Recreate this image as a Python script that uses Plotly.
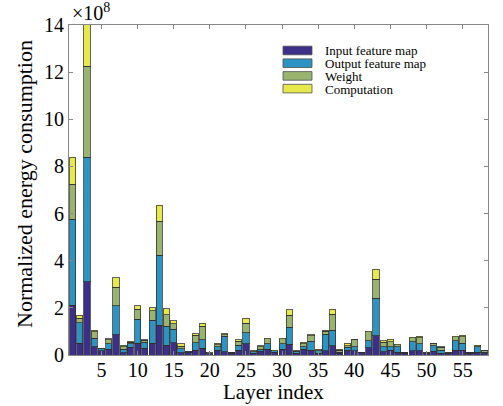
import plotly.graph_objects as go

# Energy per layer, in units of 1e8
layers = list(range(1, 59))
input_fmap = [2.12, 0.50, 3.11, 0.35, 0.17, 0.25, 0.85, 0.10, 0.33, 0.50,
              0.28, 0.50, 1.26, 0.42, 0.52, 0.10, 0.10, 0.21, 0.28, 0.05,
              0.21, 0.14, 0.08, 0.21, 0.47, 0.08, 0.16, 0.25, 0.12, 0.25,
              0.46, 0.07, 0.24, 0.21, 0.07, 0.17, 0.39, 0.07, 0.21, 0.19,
              0.09, 0.31, 0.81, 0.14, 0.21, 0.11, 0.08, 0.18, 0.18, 0.05,
              0.15, 0.08, 0.06, 0.20, 0.21, 0.07, 0.12, 0.05]
output_fmap = [3.64, 0.87, 5.28, 0.37, 0.09, 0.22, 1.23, 0.15, 0.14, 1.01,
               0.27, 0.97, 2.98, 0.81, 0.57, 0.17, 0.02, 0.31, 0.36, 0.04,
               0.14, 0.66, 0.01, 0.21, 0.47, 0.06, 0.09, 0.22, 0.05, 0.22,
               0.71, 0.08, 0.11, 0.38, 0.10, 0.71, 0.65, 0.04, 0.12, 0.16,
               0.02, 0.29, 1.59, 0.21, 0.14, 0.24, 0.015, 0.39, 0.30, 0.03,
               0.25, 0.12, 0.02, 0.40, 0.29, 0.02, 0.23, 0.07]
weight = [1.49, 0.19, 3.87, 0.27, 0.02, 0.17, 0.79, 0.10, 0.08, 0.43,
          0.07, 0.40, 1.43, 0.47, 0.24, 0.11, 0.01, 0.31, 0.59, 0.01,
          0.09, 0.06, 0.005, 0.16, 0.40, 0.04, 0.10, 0.23, 0.01, 0.23,
          0.52, 0.04, 0.12, 0.22, 0.05, 0.12, 0.69, 0.10, 0.07, 0.29,
          0.01, 0.39, 0.81, 0.19, 0.22, 0.09, 0.005, 0.17, 0.25, 0.01,
          0.09, 0.13, 0.01, 0.17, 0.27, 0.01, 0.05, 0.08]
computation = [1.14, 0.12, 2.34, 0.07, 0.01, 0.05, 0.41, 0.06, 0.04, 0.14,
               0.03, 0.14, 0.68, 0.27, 0.13, 0.09, 0.01, 0.07, 0.12, 0.01,
               0.06, 0.04, 0.005, 0.07, 0.22, 0.03, 0.05, 0.01, 0.02, 0.01,
               0.22, 0.02, 0.07, 0.05, 0.02, 0.05, 0.21, 0.03, 0.10, 0.01,
               0.005, 0.02, 0.43, 0.06, 0.10, 0.02, 0.003, 0.02, 0.06, 0.005,
               0.01, 0.02, 0.005, 0.03, 0.07, 0.005, 0.02, 0.01]

series_names = ["Input feature map", "Output feature map", "Weight", "Computation"]
series_values = [input_fmap, output_fmap, weight, computation]
colors = ["#3c2f8a", "#2b94c3", "#98b46f", "#e7e84b"]

x_ticks = [5, 10, 15, 20, 25, 30, 35, 40, 45, 50, 55]
y_ticks = [0, 2, 4, 6, 8, 10, 12, 14]

FONT = "Liberation Serif, Times New Roman, serif"

fig = go.Figure()
for name, vals, col in zip(series_names, series_values, colors):
    fig.add_trace(go.Bar(
        x=layers, y=vals, name=name,
        marker=dict(color=col, line=dict(color="rgba(45,45,45,0.75)", width=1)),
        showlegend=False,
    ))

# geometry helpers (pixels -> paper coordinates)
L, R, T, B = 69, 15, 25, 51
W, H = 503, 406
pw, ph = W - L - R, H - T - B
def px(xp):
    return (xp - L) / pw
def py(yp):
    return (H - B - yp) / ph

# manual legend (compact row spacing like the original)
row_y = [50.5, 63.2, 75.9, 88.6]
shapes = []
annotations = []
for name, col, yy in zip(series_names, colors, row_y):
    shapes.append(dict(type="rect", xref="paper", yref="paper",
                       x0=px(283), x1=px(312), y0=py(yy + 4.3), y1=py(yy - 4.3),
                       fillcolor=col, line=dict(color="rgba(80,80,80,0.8)", width=1)))
    annotations.append(dict(xref="paper", yref="paper", x=px(323), y=py(yy + 0.5),
                            xanchor="left", yanchor="middle", showarrow=False,
                            text=name, font=dict(family=FONT, size=13, color="black")))

annotations.append(dict(xref="paper", yref="paper", x=px(70), y=py(26),
                        xanchor="left", yanchor="bottom", showarrow=False,
                        text="×10<sup>8</sup>", font=dict(family=FONT, size=20, color="black")))
# axis titles
annotations.append(dict(xref="paper", yref="paper", x=px(273), y=py(392),
                        xanchor="center", yanchor="middle", showarrow=False,
                        text="Layer index", font=dict(family=FONT, size=21, color="black")))
annotations.append(dict(xref="paper", yref="paper", x=px(24), y=py(184),
                        xanchor="center", yanchor="middle", showarrow=False, textangle=-90,
                        text="Normalized energy consumption",
                        font=dict(family=FONT, size=22, color="black")))

fig.update_layout(
    width=W, height=H,
    margin=dict(l=L, r=R, t=T, b=B, autoexpand=False),
    paper_bgcolor="white", plot_bgcolor="white",
    barmode="stack", bargap=0.15,
    font=dict(family=FONT, size=20, color="black"),
    shapes=shapes, annotations=annotations,
    showlegend=False,
)
fig.update_xaxes(
    range=[0.5, 58.5], tickvals=x_ticks, ticktext=[str(t) for t in x_ticks],
    ticks="inside", ticklen=4, tickcolor="#888", showline=True, linecolor="#888",
    linewidth=1, mirror="allticks", showgrid=False, zeroline=False, automargin=False,
    tickfont=dict(family=FONT, size=20), ticklabelstandoff=-3,
)
fig.update_yaxes(
    range=[0, 14], tickvals=y_ticks, ticktext=[str(t) for t in y_ticks],
    ticks="inside", ticklen=4, tickcolor="#888", showline=True, linecolor="#888",
    linewidth=1, mirror="allticks", showgrid=False, zeroline=False, automargin=False,
    tickfont=dict(family=FONT, size=20),
)

fig.write_html("out.html", config={"displayModeBar": False},
               post_script="document.body.style.margin='0';")
